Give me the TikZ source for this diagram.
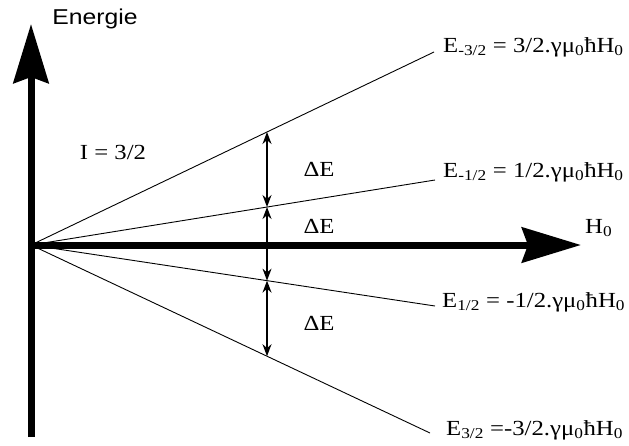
\documentclass[tikz,border=0pt]{standalone}
\usepackage{fontspec}
\usepackage{graphicx}
\setmainfont{Liberation Serif}
\newfontfamily\labelsans{Liberation Sans}
\usetikzlibrary{arrows.meta}
\usetikzlibrary{calc}
\newcommand{\widetext}[1]{\scalebox{1.15}[1]{#1}}
\tikzset{
  axis/.style={line width=7pt,-{Stealth[length=59pt,width=35pt,inset=6pt]}},
  level/.style={line width=0.9pt},
  gap/.style={line width=1.6pt,{Stealth[length=12pt,width=9pt]}-{Stealth[length=12pt,width=9pt]}},
  lbl/.style={inner sep=0pt,font=\fontsize{21.5}{25}\selectfont}
}

\begin{document}
\begin{tikzpicture}[x=1pt,y=-1pt]
\useasboundingbox (0,0) rectangle (629,445);
\coordinate (O) at (31,245);
\coordinate (Bot) at (31,437);
\coordinate (Top) at (31,24);
\coordinate (Right) at (581,245);
\draw[axis] (Bot) -- (Top);
\draw[axis] (O) -- (Right);
\node[lbl,font=\labelsans\fontsize{21.5}{25}\selectfont] (energie) at (95,19) {\widetext{Energie}};
\node[lbl,anchor=base west] (hnull) at (585,233) {\widetext{H\textsubscript{0}}};
% energy levels
\coordinate (Em3) at (434,52);
\coordinate (Em1) at (435,180);
\coordinate (Ep1) at (435,306);
\coordinate (Ep3) at (430,433);
\draw[level] (O) -- (Em3);
\draw[level] (O) -- (Em1);
\draw[level] (O) -- (Ep1);
\draw[level] (O) -- (Ep3);
\node[lbl,anchor=base west] (Lm3) at (443,52) {\widetext{E\textsubscript{-3/2} = 3/2.γμ\textsubscript{0}ħH\textsubscript{0}}};
\node[lbl,anchor=base west] (Lm1) at (443,177) {\widetext{E\textsubscript{-1/2} = 1/2.γμ\textsubscript{0}ħH\textsubscript{0}}};
\node[lbl,anchor=base west] (Lp1) at (442,307) {\widetext{E\textsubscript{1/2} = -1/2.γμ\textsubscript{0}ħH\textsubscript{0}}};
\node[lbl,anchor=base west] (Lp3) at (446,435) {\widetext{E\textsubscript{3/2} =-3/2.γμ\textsubscript{0}ħH\textsubscript{0}}};
\node[lbl] (spin) at (113,152) {\widetext{I = 3/2}};
% splitting
\coordinate (D1) at ($(O)!0.5856!(Em3)$);
\coordinate (D2) at ($(O)!0.5842!(Em1)$);
\coordinate (D3) at ($(O)!0.5842!(Ep1)$);
\coordinate (D4) at ($(O)!0.5915!(Ep3)$);
\draw[gap] (D1) -- (D2);
\draw[gap] (D2) -- (D3);
\draw[gap] (D3) -- (D4);
\node[lbl] (dE1) at (319,169) {\widetext{ΔE}};
\node[lbl] (dE2) at (319,226) {\widetext{ΔE}};
\node[lbl] (dE3) at (319,323) {\widetext{ΔE}};
\end{tikzpicture}
\end{document}
